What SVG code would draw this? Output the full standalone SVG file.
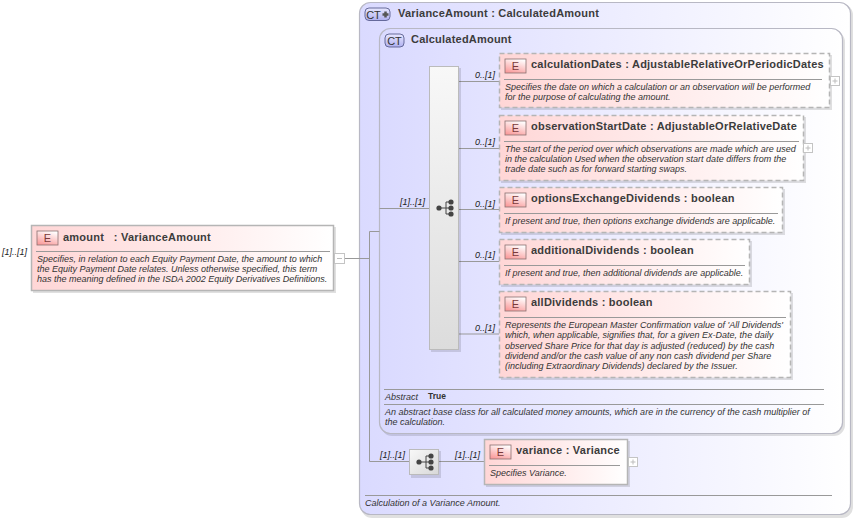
<svg xmlns="http://www.w3.org/2000/svg" width="855" height="518" viewBox="0 0 855 518">
<style>
text{font-family:"Liberation Sans",Arial,sans-serif;fill:#333}
.t{font-size:11px;font-weight:bold;letter-spacing:.22px;fill:#3c3c3c}
.d{font-size:9px;font-style:italic}
.o{font-size:9px;font-style:italic;fill:#222}
.e{fill:url(#eg);stroke:#b5b5b5;stroke-width:1.5}
.ed{fill:url(#eg);stroke:#b5b5b5;stroke-width:1.5;stroke-dasharray:5 3}
.s{fill:#000;fill-opacity:.12}
.r{stroke:#999;stroke-width:1;fill:none}
.c{stroke:#999;stroke-width:1;fill:none}
.b{fill:url(#bg);stroke:#8a7070;stroke-width:.8}
.bt{font-size:11px;fill:#7a3a3a;text-anchor:middle}
.pm{fill:#fff;stroke:#c4c4c4;stroke-width:1}
.pl{stroke:#bdbdbd;stroke-width:1;fill:none}
.ct{fill:url(#cb);stroke:#5a5f90;stroke-width:.9}
.ctt{font-size:11px;fill:#333;text-anchor:middle}
</style>
<defs>
<linearGradient id="eg"><stop offset="0" stop-color="#ffd6d6"/><stop offset="1" stop-color="#fff"/></linearGradient>
<linearGradient id="bg" x1=".3" y1="1" x2=".7" y2="0"><stop offset="0" stop-color="#fa9c9c"/><stop offset="1" stop-color="#fff"/></linearGradient>
<linearGradient id="cg"><stop offset="0" stop-color="#dadaff"/><stop offset="1" stop-color="#fff"/></linearGradient>
<linearGradient id="cb" x2="0" y2="1"><stop offset="0" stop-color="#e8e8ff"/><stop offset="1" stop-color="#b0b0f0"/></linearGradient>
<linearGradient id="sg" x2="0" y2="1"><stop offset="0" stop-color="#f8f8f8"/><stop offset="1" stop-color="#dcdcdc"/></linearGradient>
<linearGradient id="sg2" x2="1" y2="1"><stop offset="0" stop-color="#f8f8f8"/><stop offset="1" stop-color="#d8d8d8"/></linearGradient>
<g id="tree"><circle cx="-7" cy="0" r="2.600" fill="#444"/><circle cx="5" cy="-6" r="2.600" fill="#444"/><circle cx="5" cy="0" r="2.600" fill="#444"/><circle cx="5" cy="6" r="2.600" fill="#444"/><path d="M-7 0H0M5 -6H0V6H5M0 0H5" stroke="#444" fill="none"/></g>
</defs>
<g id="ct-variance">
<rect class="s" x="361" y="4" width="492" height="514" rx="11"/>
<rect x="359.500" y="2.500" width="491" height="512" rx="11" fill="url(#cg)" stroke="#b8b8c4" stroke-width="1.200"/>
<rect class="ct" x="365" y="8" width="25" height="12.500" rx="4"/>
<text class="ctt" x="373.500" y="18.500">CT</text>
<path d="M382.500 14.500h6M385.500 11.500v6" stroke="#555" stroke-width="2.500"/>
<text class="t" x="398" y="17">VarianceAmount : CalculatedAmount</text>
<path class="r" d="M365 495.500H832"/>
<text class="d" x="365" y="506">Calculation of a Variance Amount.</text>
</g>
<g id="ct-calculated">
<rect class="s" x="381" y="31" width="464" height="405" rx="11"/>
<rect x="379.500" y="28.500" width="463" height="405" rx="11" fill="url(#cg)" stroke="#b8b8c4" stroke-width="1.200"/>
<rect class="ct" x="385" y="34" width="19" height="13" rx="4"/>
<text class="ctt" x="394.500" y="44.500">CT</text>
<text class="t" x="411" y="43">CalculatedAmount</text>
<path class="r" d="M384 389.500H824M384 404.500H824"/>
<text class="d" x="385" y="400">Abstract</text>
<text x="428" y="399" font-size="8.500" font-weight="bold">True</text>
<text class="d" x="385" y="415">An abstract base class for all calculated money amounts, which are in the currency of the cash multiplier of</text>
<text class="d" x="385" y="425">the calculation.</text>
</g>
<g id="connectors">
<path class="c" d="M345 258.500H369.500M369.500 231.500V461.500H409M369.500 231.500H379.500M379.500 208.500H429M459 81.500H499M459 148.500H499M459 209.500H499M459 261.500H499M459 334H499M439 461.500H484"/>
<text class="o" x="2" y="255">[1]..[1]</text>
<text class="o" x="400" y="205">[1]..[1]</text>
<text class="o" x="475" y="78">0..[1]</text>
<text class="o" x="475" y="145">0..[1]</text>
<text class="o" x="475" y="207">0..[1]</text>
<text class="o" x="475" y="258">0..[1]</text>
<text class="o" x="475" y="331">0..[1]</text>
<text class="o" x="380" y="458">[1]..[1]</text>
<text class="o" x="455" y="458">[1]..[1]</text>
</g>
<g id="seq-main">
<rect class="s" x="431" y="68" width="30" height="284"/>
<rect x="429.500" y="66.500" width="29" height="283" fill="url(#sg)" stroke="#bbb"/>
<use href="#tree" x="446" y="208"/>
</g>
<g id="seq-variance">
<rect class="s" x="411" y="451" width="30" height="27"/>
<rect x="409.500" y="449.500" width="29" height="25" fill="url(#sg2)" stroke="#bbb"/>
<use href="#tree" x="426" y="462"/>
</g>
<g id="el-amount">
<rect class="s" x="33" y="227" width="303" height="66"/>
<rect class="e" x="31.500" y="225.500" width="302" height="65"/>
<rect class="b" x="37" y="231" width="21" height="14"/>
<text class="bt" x="47.500" y="242">E</text>
<text class="t" x="63" y="241">amount&#160;&#160; : VarianceAmount</text>
<path class="r" d="M36 251.500H330"/>
<text class="d" x="37" y="262">Specifies, in relation to each Equity Payment Date, the amount to which</text>
<text class="d" x="37" y="272">the Equity Payment Date relates. Unless otherwise specified, this term</text>
<text class="d" x="37" y="282">has the meaning defined in the ISDA 2002 Equity Derivatives Definitions.</text>
<rect class="pm" x="334.500" y="253.500" width="10" height="10"/>
<path class="pl" d="M337 258.500H342"/>
</g>
<g id="el-calculationDates">
<rect class="s" x="501" y="55" width="331" height="55"/>
<rect class="ed" x="499.500" y="53.500" width="330" height="54"/>
<rect class="b" x="505" y="59" width="21" height="14"/>
<text class="bt" x="515.500" y="70">E</text>
<text class="t" x="531" y="68">calculationDates : AdjustableRelativeOrPeriodicDates</text>
<path class="r" d="M504 79.500H822"/>
<text class="d" x="505" y="90">Specifies the date on which a calculation or an observation will be performed</text>
<text class="d" x="505" y="100">for the purpose of calculating the amount.</text>
<rect class="pm" x="830.500" y="76.500" width="9" height="9"/>
<path class="pl" d="M832.500 81H837.500M835 78.500V83.500"/>
</g>
<g id="el-observationStartDate">
<rect class="s" x="501" y="117" width="305" height="66"/>
<rect class="ed" x="499.500" y="115.500" width="304" height="65"/>
<rect class="b" x="505" y="121" width="21" height="14"/>
<text class="bt" x="515.500" y="132">E</text>
<text class="t" x="531" y="130">observationStartDate : AdjustableOrRelativeDate</text>
<path class="r" d="M504 141.500H799"/>
<text class="d" x="505" y="152">The start of the period over which observations are made which are used</text>
<text class="d" x="505" y="162">in the calculation Used when the observation start date differs from the</text>
<text class="d" x="505" y="172">trade date such as for forward starting swaps.</text>
<rect class="pm" x="803.500" y="143.500" width="9" height="9"/>
<path class="pl" d="M805.500 148H810.500M808 145.500V150.500"/>
</g>
<g id="el-optionsExchangeDividends">
<rect class="s" x="501" y="189" width="284" height="46"/>
<rect class="ed" x="499.500" y="187.500" width="283" height="45"/>
<rect class="b" x="505" y="193" width="21" height="14"/>
<text class="bt" x="515.500" y="204">E</text>
<text class="t" x="531" y="202">optionsExchangeDividends : boolean</text>
<path class="r" d="M504 213.500H778"/>
<text class="d" x="505" y="224">If present and true, then options exchange dividends are applicable.</text>
</g>
<g id="el-additionalDividends">
<rect class="s" x="501" y="241" width="251" height="46"/>
<rect class="ed" x="499.500" y="239.500" width="250" height="45"/>
<rect class="b" x="505" y="245" width="21" height="14"/>
<text class="bt" x="515.500" y="256">E</text>
<text class="t" x="531" y="254">additionalDividends : boolean</text>
<path class="r" d="M504 265.500H745"/>
<text class="d" x="505" y="276">If present and true, then additional dividends are applicable.</text>
</g>
<g id="el-allDividends">
<rect class="s" x="501" y="293" width="292" height="87"/>
<rect class="ed" x="499.500" y="291.500" width="291" height="86"/>
<rect class="b" x="505" y="297" width="21" height="14"/>
<text class="bt" x="515.500" y="308">E</text>
<text class="t" x="531" y="306">allDividends : boolean</text>
<path class="r" d="M504 317.500H786"/>
<text class="d" x="505" y="328">Represents the European Master Confirmation value of 'All Dividends'</text>
<text class="d" x="505" y="338.300">which, when applicable, signifies that, for a given Ex-Date, the daily</text>
<text class="d" x="505" y="348.600">observed Share Price for that day is adjusted (reduced) by the cash</text>
<text class="d" x="505" y="359">dividend and/or the cash value of any non cash dividend per Share</text>
<text class="d" x="505" y="369.300">(including Extraordinary Dividends) declared by the Issuer.</text>
</g>
<g id="el-variance">
<rect class="s" x="486" y="441" width="144" height="46"/>
<rect class="e" x="484.500" y="439.500" width="143" height="45"/>
<rect class="b" x="490" y="445" width="21" height="14"/>
<text class="bt" x="500.500" y="456">E</text>
<text class="t" x="516" y="454" letter-spacing=".35">variance : Variance</text>
<path class="r" d="M489 465.500H620"/>
<text class="d" x="490" y="476">Specifies Variance.</text>
<rect class="pm" x="628.500" y="457.500" width="9" height="9"/>
<path class="pl" d="M630.500 462H635.500M633 459.500V464.500"/>
</g>
</svg>
